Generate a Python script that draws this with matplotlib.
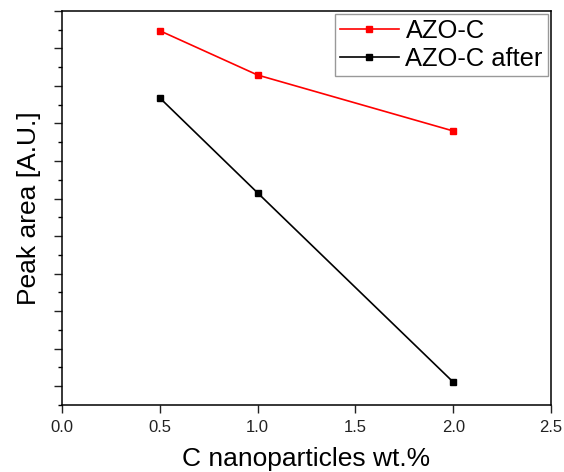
import numpy as np
import matplotlib.pyplot as plt
from matplotlib.ticker import MultipleLocator, NullFormatter

plt.rcParams['font.family'] = ['Liberation Sans', 'DejaVu Sans']

# data (y in arbitrary units)
wt = [0.5, 1.0, 2.0]
azo_c = [9.47, 8.29, 6.80]
azo_c_after = [7.68, 5.15, 0.11]

fig = plt.figure(figsize=(5.64, 4.72), dpi=100)
ax = fig.add_axes([0.110, 0.142, 0.867, 0.835])

ax.plot(wt, azo_c, color='red', marker='s', markersize=5, linewidth=1.2, label='AZO-C')
ax.plot(wt, azo_c_after, color='black', marker='s', markersize=5, linewidth=1.2, label='AZO-C after')

ax.set_xlim(0, 2.5)
ax.set_ylim(-0.5, 10)
ax.xaxis.set_major_locator(MultipleLocator(0.5))
ax.yaxis.set_major_locator(MultipleLocator(1))
ax.yaxis.set_minor_locator(MultipleLocator(0.5))
ax.yaxis.set_major_formatter(NullFormatter())

ax.tick_params(axis='both', which='major', direction='out', length=5.8, width=1,
               labelsize=12, colors='#222222', pad=5)
ax.tick_params(axis='y', which='minor', direction='out', length=3, width=1)
for s in ax.spines.values():
    s.set_linewidth(1.1)

ax.set_xlabel('C nanoparticles wt.%', fontsize=19, labelpad=9)
ax.set_ylabel('Peak area [A.U.]', fontsize=19, labelpad=4)

leg = ax.legend(loc='upper right', fontsize=18.4, frameon=True, fancybox=False,
                edgecolor='gray', handlelength=2.3, handletextpad=0.27,
                borderpad=0.2, labelspacing=0.15, borderaxespad=0.12)
leg.get_frame().set_linewidth(1)

fig.savefig('out.png', dpi=100)
